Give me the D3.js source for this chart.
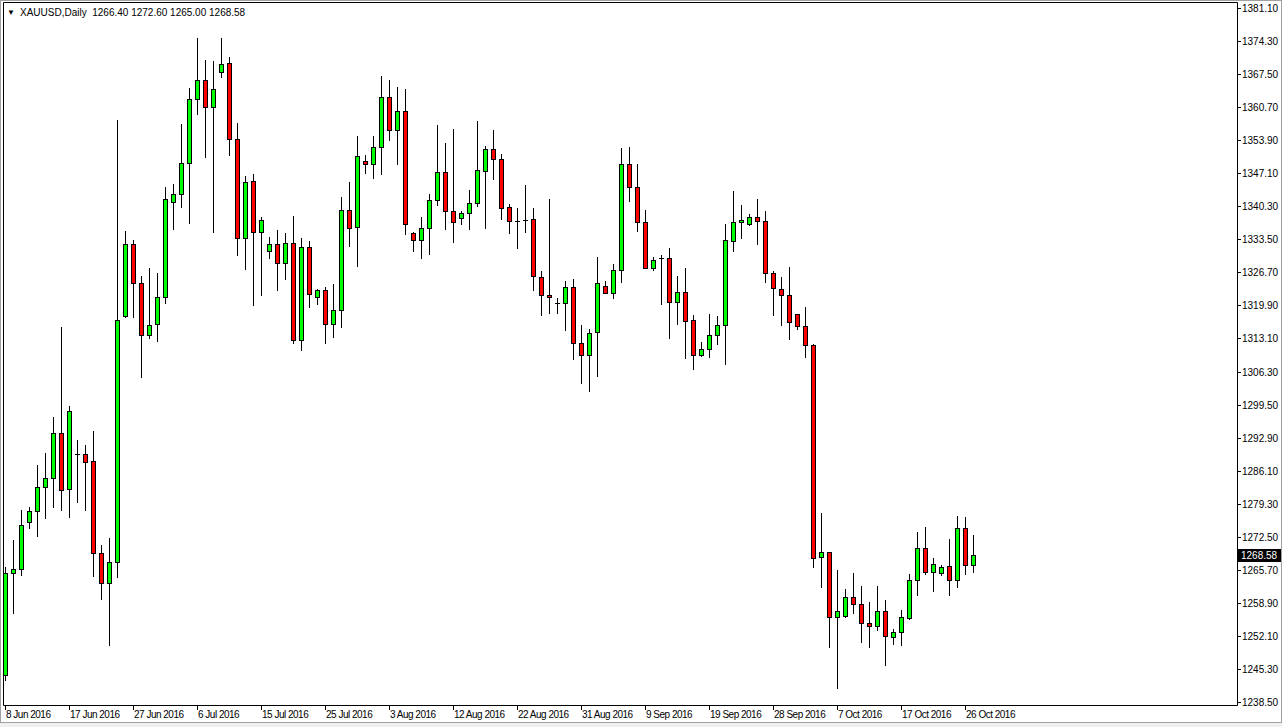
<!DOCTYPE html>
<html><head><meta charset="utf-8">
<script src="https://cdn.jsdelivr.net/npm/d3@7"></script>
<style>
html,body{margin:0;padding:0;background:#fff;}
svg{display:block;}
text{font-family:"Liberation Sans",Arial,sans-serif;font-size:10px;fill:#000;}
</style></head>
<body>
<script>
const symbolTitle = "XAUUSD,Daily";
const lastQuote = ["1266.40","1272.60","1265.00","1268.58"];
const currentPrice = 1268.58;

const opens  = [1243.8,1264.8,1265.6,1275.3,1277.5,1282.5,1284.3,1293.6,1282.1,1289.4,
1289.3,1287.8,1268.9,1262.7,1267.2,1317.7,1332.5,1324.5,1313.9,1316.0,
1321.6,1341.1,1342.8,1349.3,1362.3,1366.2,1360.7,1367.9,1369.7,1354.1,
1333.7,1345.4,1335.1,1331.0,1332.5,1328.6,1332.7,1312.8,1332.0,1321.6,
1323.0,1316.0,1318.9,1339.5,1336.0,1349.6,1348.9,1352.6,1362.7,1355.9,
1360.0,1334.9,1333.3,1335.8,1341.5,1347.3,1339.3,1337.8,1338.9,1340.9,
1347.5,1352.0,1350.0,1340.1,1337.3,1337.5,1337.6,1325.7,1322.0,1320.5,
1320.5,1323.6,1312.1,1309.6,1314.4,1323.8,1322.4,1327.1,1348.9,1344.2,
1337.0,1327.7,1329.6,1329.6,1320.7,1322.6,1316.8,1309.6,1310.9,1313.8,
1315.8,1333.1,1337.0,1336.6,1338.0,1337.2,1326.5,1323.2,1322.0,1318.1,
1315.6,1311.8,1268.1,1269.1,1255.7,1255.9,1259.8,1258.4,1254.5,1253.9,
1257.0,1251.6,1252.8,1255.5,1263.5,1269.9,1265.0,1264.8,1266.2,1263.3,
1274.2,1266.40];
const highs  = [1266.1,1271.6,1277.9,1278.4,1287.0,1289.6,1296.9,1315.4,1299.3,1292.2,
1291.2,1294.1,1270.6,1272.0,1358.1,1335.2,1333.4,1326.0,1327.6,1326.6,
1344.3,1344.9,1357.2,1364.6,1374.9,1370.5,1370.1,1374.9,1371.0,1357.4,
1346.5,1346.9,1338.0,1334.0,1335.4,1334.7,1338.3,1333.7,1333.2,1323.3,
1323.6,1324.3,1342.3,1345.2,1354.8,1350.8,1354.8,1367.1,1366.3,1364.8,
1364.4,1335.0,1338.0,1342.8,1357.0,1353.3,1356.1,1339.3,1343.6,1357.8,
1352.8,1355.9,1351.0,1340.7,1339.9,1344.6,1339.9,1326.9,1341.9,1321.4,
1324.9,1325.3,1315.8,1315.0,1329.8,1324.9,1328.4,1352.2,1352.4,1349.1,
1339.5,1329.8,1330.2,1331.8,1325.9,1327.7,1317.9,1312.3,1318.1,1317.7,
1336.6,1343.4,1340.5,1338.7,1341.9,1339.3,1326.9,1325.7,1327.9,1318.1,
1319.5,1312.0,1277.2,1269.1,1265.5,1261.5,1264.8,1262.1,1258.8,1262.1,
1259.2,1253.3,1257.2,1264.6,1273.2,1274.4,1267.9,1266.4,1271.8,1276.5,
1276.3,1272.60];
const lows   = [1242.8,1256.6,1264.4,1274.2,1272.4,1276.1,1278.4,1277.7,1276.4,1279.4,
1277.7,1264.3,1259.4,1250.0,1264.1,1317.5,1317.5,1305.2,1313.1,1312.6,
1320.3,1335.6,1340.2,1336.9,1359.2,1350.5,1335.1,1366.8,1350.8,1330.2,
1327.3,1319.9,1322.1,1329.7,1323.1,1325.4,1312.2,1310.7,1319.5,1320.1,
1312.1,1313.5,1315.5,1332.2,1328.0,1347.1,1346.1,1346.9,1353.9,1348.9,
1334.5,1331.2,1329.7,1330.4,1340.5,1335.6,1333.0,1336.6,1335.6,1340.3,
1335.8,1345.9,1337.6,1334.7,1331.7,1335.1,1323.0,1317.9,1318.3,1318.3,
1314.8,1308.9,1303.9,1302.2,1305.4,1322.4,1321.4,1324.7,1341.3,1335.2,
1327.5,1327.1,1320.1,1313.1,1316.0,1309.0,1306.8,1309.4,1309.2,1311.9,
1307.8,1331.0,1333.7,1336.4,1332.5,1324.7,1317.9,1315.8,1312.9,1315.0,
1309.2,1266.1,1262.0,1249.7,1241.2,1255.7,1256.6,1250.6,1249.6,1253.1,
1245.9,1250.2,1250.1,1255.3,1260.3,1264.6,1261.1,1264.4,1260.3,1261.9,
1264.6,1265.00];
const closes = [1264.8,1265.6,1274.7,1277.5,1282.5,1284.3,1293.6,1281.9,1298.1,1289.4,
1287.7,1268.9,1262.7,1267.2,1317.0,1332.5,1324.5,1313.9,1315.8,1321.6,
1341.9,1342.8,1349.3,1362.3,1366.2,1360.7,1364.4,1369.5,1354.1,1333.7,
1345.2,1335.1,1337.4,1332.5,1328.6,1332.7,1312.8,1332.0,1322.2,1323.0,
1316.0,1318.9,1339.5,1335.8,1350.6,1348.9,1352.4,1362.7,1355.9,1360.0,
1336.6,1333.3,1335.8,1341.5,1347.3,1339.3,1337.0,1338.9,1340.9,1347.7,
1352.0,1350.0,1339.9,1337.2,1337.3,1337.5,1325.9,1322.0,1321.6,1320.5,
1323.6,1312.1,1309.6,1314.2,1324.5,1322.4,1327.1,1348.9,1344.2,1337.0,
1327.7,1329.2,1329.6,1320.7,1322.6,1316.6,1309.8,1310.9,1313.8,1315.8,
1333.3,1337.0,1337.4,1338.0,1337.2,1326.5,1323.4,1322.0,1316.4,1315.6,
1311.7,1267.9,1269.1,1255.7,1257.0,1259.8,1258.4,1254.5,1253.9,1257.0,
1251.8,1252.8,1255.7,1263.5,1269.9,1265.0,1266.6,1266.0,1263.3,1274.2,
1266.4,1268.58];

const priceTickLabels = ["1381.10","1374.30","1367.50","1360.70","1353.90","1347.10","1340.30",
"1333.50","1326.70","1319.90","1313.10","1306.30","1299.50","1292.90","1286.10","1279.30",
"1272.50","1265.70","1258.90","1252.10","1245.30","1238.50"];
const priceTop = 1381.10, priceStep = 6.8;

const dateLabels = ["8 Jun 2016","17 Jun 2016","27 Jun 2016","6 Jul 2016","15 Jul 2016",
"25 Jul 2016","3 Aug 2016","12 Aug 2016","22 Aug 2016","31 Aug 2016","9 Sep 2016",
"19 Sep 2016","28 Sep 2016","7 Oct 2016","17 Oct 2016","26 Oct 2016"];
const barsPerDateLabel = 8;

const W = 1282, H = 727;
const plotL = 3, plotT = 2, plotR = 1237, plotB = 705;

const svg = d3.select("body").append("svg").attr("width", W).attr("height", H);

// window background / borders
svg.append("rect").attr("x",0).attr("y",0).attr("width",W).attr("height",H).attr("fill","#fff");
svg.append("rect").attr("x",0).attr("y",723).attr("width",W).attr("height",4).attr("fill","#f0f0f0");
svg.append("rect").attr("x",0.5).attr("y",0.5).attr("width",W-1).attr("height",722).attr("fill","none").attr("stroke","#a0a0a0");

const n = opens.length;
const x = d3.scaleLinear().domain([0, n-1]).range([5, 5 + 8*(n-1)]);
const y = d3.scaleLinear().domain([1238.5, 1381.1]).range([701, 8]);

// plot frame
svg.append("path")
  .attr("d", `M${plotL+0.5},${plotT+0.5}H${plotR+0.5}V${plotB+0.5}H${plotL+0.5}Z`)
  .attr("fill","none").attr("stroke","#000").attr("stroke-width",1);

// price axis
const pa = svg.append("g");
priceTickLabels.forEach((t,i)=>{
  const v = priceTop - i*priceStep;
  const yy = Math.round(y(v));
  pa.append("line").attr("x1",plotR+1).attr("x2",plotR+4).attr("y1",yy+0.5).attr("y2",yy+0.5)
    .attr("stroke","#000");
  pa.append("text").attr("x",plotR+5).attr("y",yy+4).text(t);
});

// date axis
const da = svg.append("g");
dateLabels.forEach((t,i)=>{
  const xx = Math.round(x(i*barsPerDateLabel));
  da.append("line").attr("x1",xx+0.5).attr("x2",xx+0.5).attr("y1",plotB+1).attr("y2",plotB+5)
    .attr("stroke","#000");
  da.append("text").attr("x",xx+1).attr("y",plotB+13).style("letter-spacing","-0.5px").text(t);
});

// candles
const bars = d3.range(n).map(i=>({o:opens[i],h:highs[i],l:lows[i],c:closes[i],i}));
const cg = svg.append("g");
bars.forEach(d=>{
  const cx = Math.round(x(d.i));
  const yh = Math.round(y(d.h)), yl = Math.round(y(d.l));
  cg.append("line").attr("x1",cx+0.5).attr("x2",cx+0.5).attr("y1",yh).attr("y2",yl+1)
    .attr("stroke","#000").attr("stroke-width",1);
  const yt = Math.round(y(Math.max(d.o,d.c))), yb = Math.round(y(Math.min(d.o,d.c)));
  if (yb - yt < 1) {
    cg.append("line").attr("x1",cx-2).attr("x2",cx+3).attr("y1",yt+0.5).attr("y2",yt+0.5)
      .attr("stroke","#000").attr("stroke-width",1);
  } else {
    cg.append("rect").attr("x",cx-1.5).attr("y",yt+0.5).attr("width",4).attr("height",yb-yt)
      .attr("fill", d.c >= d.o ? "#00ff00" : "#ff0000").attr("stroke","#000").attr("stroke-width",1);
  }
});

// current price marker
const cy = Math.round(y(currentPrice));
svg.append("rect").attr("x",plotR+1).attr("y",cy-6).attr("width",43).attr("height",13).attr("fill","#000");
svg.append("text").attr("x",plotR+4).attr("y",cy+4).style("fill","#fff").text(currentPrice.toFixed(2));

// title
svg.append("text").attr("x",7).attr("y",15).style("font-size","8px").text("\u25BC");
svg.append("text").attr("x",20).attr("y",16).style("font-size","10px").style("white-space","pre")
  .text(symbolTitle + "  " + lastQuote.join(" "));
</script>
</body></html>
